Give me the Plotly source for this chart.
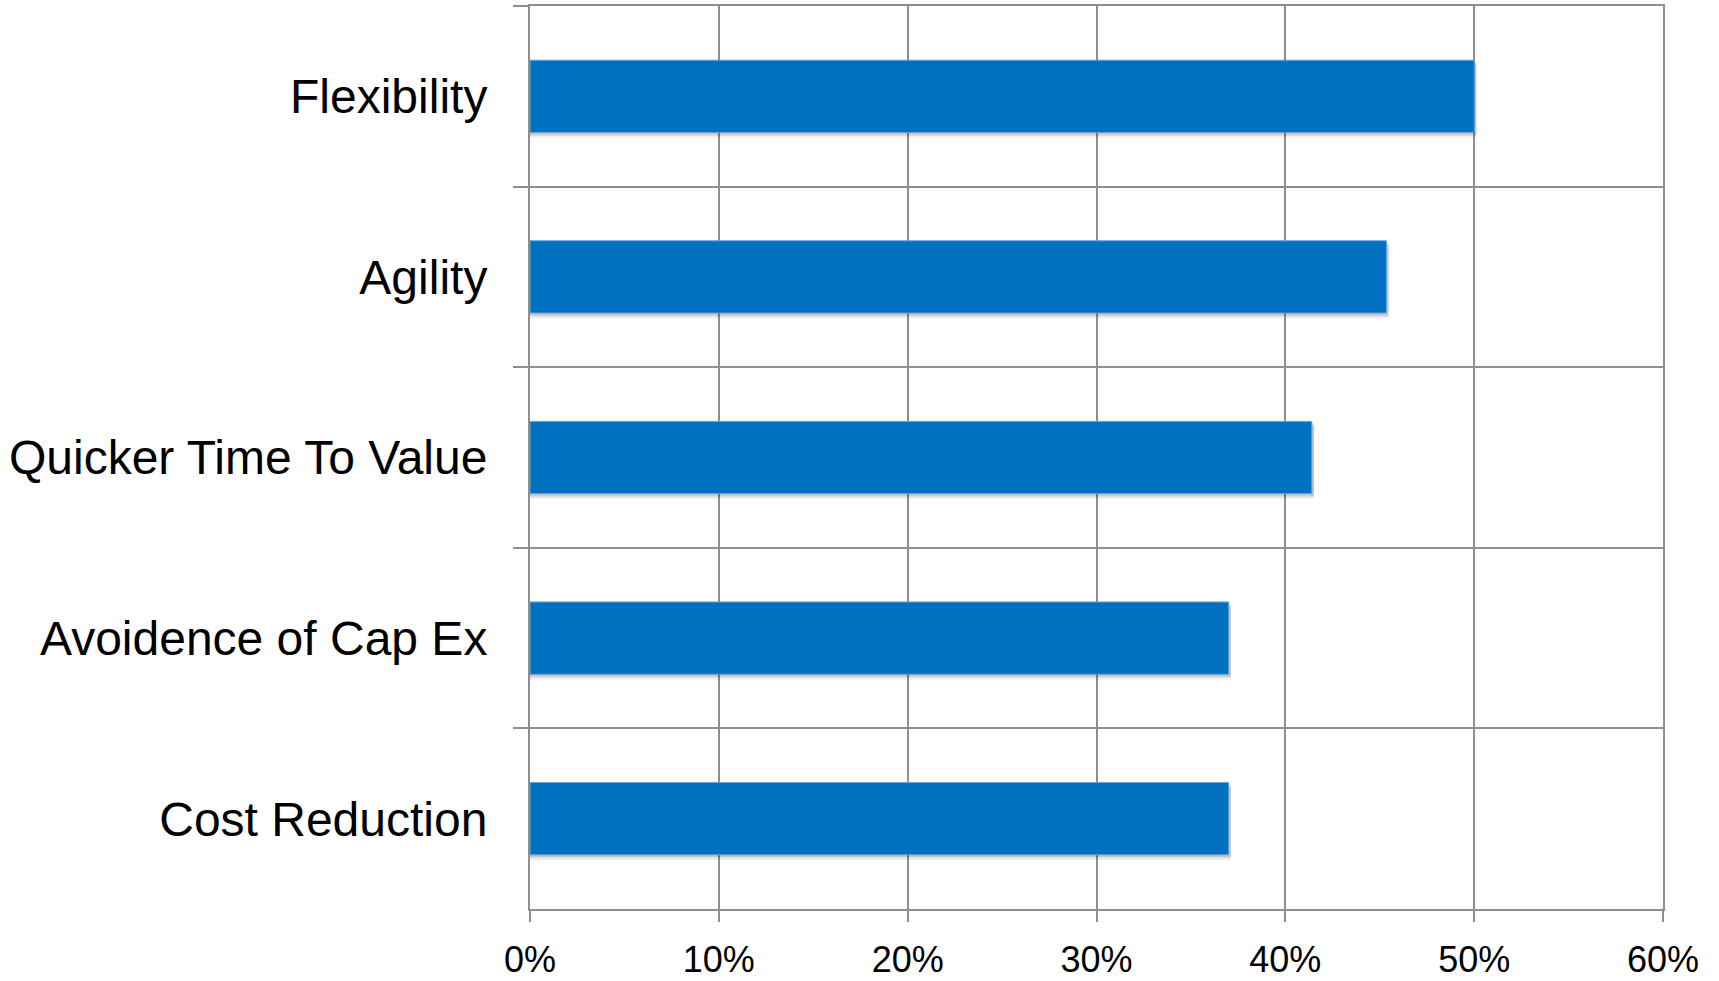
import plotly.graph_objects as go

categories = ["Flexibility", "Agility", "Quicker Time To Value", "Avoidence of Cap Ex", "Cost Reduction"]
values = [0.50, 0.4535, 0.414, 0.370, 0.370]
x_ticks = [0, 0.1, 0.2, 0.3, 0.4, 0.5, 0.6]

GRID = "#8f8f8f"
FONT = "Liberation Sans, Arial, sans-serif"

fig = go.Figure()
# soft drop shadow under bars
for dy, alpha in [(0.030, 0.06), (0.020, 0.08), (0.012, 0.10)]:
    fig.add_trace(go.Bar(
        y=categories, x=[v + 0.0012 for v in values], orientation="h",
        width=0.4, offset=-0.2 + dy,
        marker=dict(color=f"rgba(0,0,0,{alpha})", line=dict(width=0)),
        hoverinfo="skip", showlegend=False,
    ))
fig.add_trace(go.Bar(
    y=categories, x=values, orientation="h",
    width=0.4, offset=-0.2,
    marker=dict(color="#0070C0", line=dict(color="#5fa3dc", width=1)),
    showlegend=False,
))

fig.update_layout(
    width=1719, height=981,
    margin=dict(l=530, r=56, t=6, b=72),
    paper_bgcolor="white", plot_bgcolor="white",
    barmode="overlay",
    font=dict(family=FONT, color="black"),
)
fig.update_xaxes(
    range=[0, 0.6], tickvals=x_ticks, tickformat=".0%",
    showgrid=True, gridcolor=GRID, gridwidth=2,
    showline=True, linecolor=GRID, linewidth=2, mirror=True,
    ticks="outside", ticklen=11, tickwidth=2, tickcolor=GRID,
    tickfont=dict(size=36, family=FONT, color="black"),
    ticklabelstandoff=7,
    zeroline=False, automargin=False,
)
fig.update_yaxes(
    type="category", categoryorder="array", categoryarray=categories,
    range=[4.5, -0.5],
    tickson="boundaries",
    showgrid=True, gridcolor=GRID, gridwidth=2,
    showline=True, linecolor=GRID, linewidth=2, mirror=True,
    ticks="outside", ticklen=15, tickwidth=2, tickcolor=GRID,
    tickfont=dict(size=48, family=FONT, color="black"),
    ticklabelstandoff=31,
    automargin=False,
)

fig.write_html("out.html")
